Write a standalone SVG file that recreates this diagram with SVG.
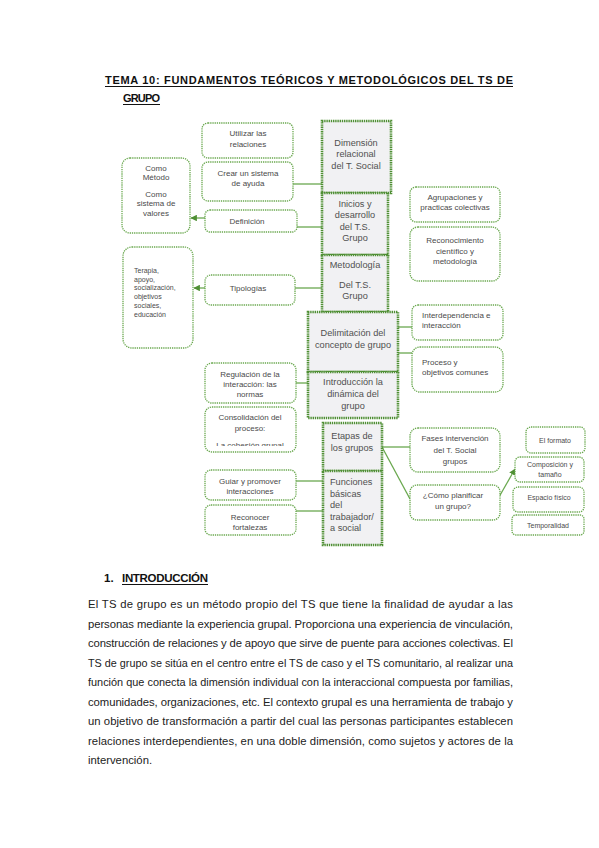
<svg xmlns="http://www.w3.org/2000/svg" width="599" height="848" viewBox="0 0 599 848">
<style>
.n{fill:#fff;stroke:#6aa84f;stroke-width:1.3;stroke-dasharray:1.3 0.9}
.c{fill:#f1f1f3;stroke:#4f8f34;stroke-width:2.6;stroke-dasharray:1.4 0.8}
.t{font-family:"Liberation Sans",Arial,sans-serif;font-size:8px;fill:#4a4a4a;text-anchor:middle}
.l{text-anchor:start}
.tc{font-size:9.2px;fill:#505050}
.s{font-size:7px}
.e{stroke:#6aa84f;stroke-width:1.3;fill:none}
.h{font-family:"Liberation Sans",Arial,sans-serif;font-weight:bold;fill:#111}
.p{font-family:"Liberation Sans",Arial,sans-serif;font-size:11.3px;fill:#222}
</style>
<defs>
<marker id="ar" viewBox="0 0 10 10" refX="9" refY="5" markerWidth="5" markerHeight="5" orient="auto">
<path d="M0,0 L10,5 L0,10 z" fill="#4f8f34"/>
</marker>
<clipPath id="cc"><rect x="205" y="407" width="92" height="39"/></clipPath>
</defs>
<rect width="599" height="848" fill="#fff"/>

<g id="title">
<text class="h" x="105" y="84" font-size="11" textLength="408" lengthAdjust="spacing">TEMA 10: FUNDAMENTOS TEÓRICOS Y METODOLÓGICOS DEL TS DE</text>
<line x1="105" y1="86.5" x2="513" y2="86.5" stroke="#111" stroke-width="1"/>
<text class="h" x="123" y="102" font-size="11" textLength="37" lengthAdjust="spacing">GRUPO</text>
<line x1="123" y1="104.5" x2="160" y2="104.5" stroke="#111" stroke-width="1"/>
</g>

<g id="connectors">
<line class="e" x1="293" y1="184" x2="322" y2="184"/>
<line class="e" x1="297" y1="227" x2="322" y2="227"/>
<line class="e" x1="205" y1="218" x2="191" y2="218" marker-end="url(#ar)"/>
<line class="e" x1="295" y1="288" x2="322" y2="288"/>
<line class="e" x1="205" y1="288" x2="194" y2="288" marker-end="url(#ar)"/>
<line class="e" x1="398" y1="327" x2="412" y2="327"/>
<line class="e" x1="398" y1="353" x2="412" y2="353"/>
<line class="e" x1="296" y1="383" x2="308" y2="383"/>
<line class="e" x1="296" y1="481" x2="323" y2="481"/>
<line class="e" x1="296" y1="511" x2="323" y2="511"/>
<line class="e" x1="382" y1="447" x2="410" y2="447"/>
<line class="e" x1="382" y1="447" x2="410" y2="499"/>
<line class="e" x1="499" y1="497" x2="515" y2="469" marker-end="url(#ar)"/>
</g>

<g id="n-dimension"><rect class="c" x="322" y="121" width="69" height="72"/>
<text class="t tc" x="356" y="146">Dimensión</text><text class="t tc" x="356" y="157">relacional</text><text class="t tc" x="356" y="169">del T. Social</text></g>
<g id="n-inicios"><rect class="c" x="322" y="193" width="66" height="62"/>
<text class="t tc" x="355" y="207">Inicios y</text><text class="t tc" x="355" y="218">desarrollo</text><text class="t tc" x="355" y="230">del T.S.</text><text class="t tc" x="355" y="241">Grupo</text></g>
<g id="n-metodologia"><rect class="c" x="322" y="255" width="66" height="57"/>
<text class="t tc" x="355" y="268">Metodología</text><text class="t tc" x="355" y="288">Del T.S.</text><text class="t tc" x="355" y="299">Grupo</text></g>
<g id="n-delimitacion"><rect class="c" x="308" y="312" width="90" height="60"/>
<text class="t tc" x="353" y="336">Delimitación del</text><text class="t tc" x="353" y="348">concepto de grupo</text></g>
<g id="n-introduccion"><rect class="c" x="308" y="372" width="90" height="46"/>
<text class="t tc" x="353" y="385">Introducción la</text><text class="t tc" x="353" y="397">dinámica del</text><text class="t tc" x="353" y="409">grupo</text></g>
<g id="n-etapas"><rect class="c" x="323" y="423" width="59" height="48"/>
<text class="t tc" x="352" y="439">Etapas de</text><text class="t tc" x="352" y="451">los grupos</text></g>
<g id="n-funciones"><rect class="c" x="323" y="471" width="59" height="74"/>
<text class="t tc l" x="330" y="485">Funciones</text><text class="t tc l" x="330" y="497">básicas</text><text class="t tc l" x="330" y="508">del</text><text class="t tc l" x="330" y="520">trabajador/</text><text class="t tc l" x="330" y="531">a social</text></g>

<g id="n-utilizar"><rect class="n" x="202" y="123" width="91" height="35" rx="6"/>
<text class="t" x="248" y="136">Utilizar las</text><text class="t" x="248" y="147">relaciones</text></g>
<g id="n-crear"><rect class="n" x="202" y="162" width="91" height="39" rx="6"/>
<text class="t" x="248" y="176">Crear un sistema</text><text class="t" x="248" y="186">de ayuda</text></g>
<g id="n-definicion"><rect class="n" x="205" y="210" width="92" height="22" rx="5"/>
<text class="t" x="247" y="224">Definición</text></g>
<g id="n-como"><rect class="n" x="122" y="158" width="68" height="75" rx="8"/>
<text class="t" x="156" y="171">Como</text><text class="t" x="156" y="180">Método</text><text class="t" x="156" y="197">Como</text><text class="t" x="156" y="206">sistema de</text><text class="t" x="156" y="216">valores</text></g>
<g id="n-terapia"><rect class="n" x="123" y="247" width="70" height="101" rx="9"/>
<text class="t s l" x="134" y="273">Terapia,</text><text class="t s l" x="134" y="282">apoyo,</text><text class="t s l" x="134" y="290">socialización,</text><text class="t s l" x="134" y="299">objetivos</text><text class="t s l" x="134" y="308">sociales,</text><text class="t s l" x="134" y="317">educación</text></g>
<g id="n-tipologias"><rect class="n" x="205" y="275" width="90" height="30" rx="6"/>
<text class="t" x="248" y="291">Tipologías</text></g>
<g id="n-agrupaciones"><rect class="n" x="410" y="187" width="90" height="35" rx="6"/>
<text class="t" x="455" y="200">Agrupaciones y</text><text class="t" x="455" y="210">practicas colectivas</text></g>
<g id="n-reconocimiento"><rect class="n" x="410" y="227" width="90" height="54" rx="8"/>
<text class="t" x="455" y="243">Reconocimiento</text><text class="t" x="455" y="254">científico y</text><text class="t" x="455" y="264">metodología</text></g>
<g id="n-interdependencia"><rect class="n" x="412" y="305" width="91" height="35" rx="6"/>
<text class="t l" x="422" y="318">Interdependencia e</text><text class="t l" x="422" y="328">interacción</text></g>
<g id="n-proceso"><rect class="n" x="412" y="347" width="91" height="45" rx="8"/>
<text class="t l" x="422" y="365">Proceso y</text><text class="t l" x="422" y="375">objetivos comunes</text></g>
<g id="n-regulacion"><rect class="n" x="205" y="363" width="91" height="40" rx="7"/>
<text class="t" x="250" y="377">Regulación de la</text><text class="t" x="250" y="387">interacción: las</text><text class="t" x="250" y="397">normas</text></g>
<g id="n-consolidacion"><rect class="n" x="205" y="407" width="91" height="45" rx="7"/>
<text class="t" x="250" y="420">Consolidación del</text><text class="t" x="250" y="431">proceso:</text><text class="t" x="250" y="448" clip-path="url(#cc)">La cohesión grupal</text></g>
<g id="n-guiar"><rect class="n" x="205" y="470" width="91" height="30" rx="6"/>
<text class="t" x="250" y="484">Guiar y promover</text><text class="t" x="250" y="494">interacciones</text></g>
<g id="n-reconocer"><rect class="n" x="205" y="505" width="91" height="30" rx="6"/>
<text class="t" x="250" y="520">Reconocer</text><text class="t" x="250" y="530">fortalezas</text></g>
<g id="n-fases"><rect class="n" x="410" y="428" width="90" height="44" rx="8"/>
<text class="t" x="455" y="441">Fases intervención</text><text class="t" x="455" y="453">del T. Social</text><text class="t" x="455" y="464">grupos</text></g>
<g id="n-planificar"><rect class="n" x="410" y="485" width="90" height="35" rx="7"/>
<text class="t" x="453" y="498">¿Cómo planificar</text><text class="t" x="453" y="509">un grupo?</text></g>
<g id="n-formato"><rect class="n" x="526" y="427" width="59" height="26" rx="5"/>
<text class="t s" x="555" y="443">El formato</text></g>
<g id="n-composicion"><rect class="n" x="515" y="457" width="69" height="25" rx="5"/>
<text class="t s" x="550" y="467">Composición y</text><text class="t s" x="550" y="477">tamaño</text></g>
<g id="n-espacio"><rect class="n" x="513" y="487" width="71" height="25" rx="5"/>
<text class="t s" x="549" y="500">Espacio físico</text></g>
<g id="n-temporalidad"><rect class="n" x="512" y="515" width="72" height="20" rx="4"/>
<text class="t s" x="548" y="528">Temporalidad</text></g>

<g id="section">
<text class="h" x="104" y="582" font-size="11.5">1.</text>
<text class="h" x="122" y="582" font-size="11.5" textLength="86" lengthAdjust="spacing">INTRODUCCIÓN</text>
<line x1="122" y1="584.5" x2="208" y2="584.5" stroke="#111" stroke-width="1"/>
<text class="p" x="88" y="608" textLength="425" lengthAdjust="spacing">El TS de grupo es un método propio del TS que tiene la finalidad de ayudar a las</text>
<text class="p" x="88" y="627.5" textLength="425" lengthAdjust="spacing">personas mediante la experiencia grupal. Proporciona una experiencia de vinculación,</text>
<text class="p" x="88" y="647" textLength="425" lengthAdjust="spacing">construcción de relaciones y de apoyo que sirve de puente para acciones colectivas. El</text>
<text class="p" x="88" y="666.5" textLength="425" lengthAdjust="spacingAndGlyphs">TS de grupo se sitúa en el centro entre el TS de caso y el TS comunitario, al realizar una</text>
<text class="p" x="88" y="686" textLength="425" lengthAdjust="spacingAndGlyphs">función que conecta la dimensión individual con la interaccional compuesta por familias,</text>
<text class="p" x="88" y="705.5" textLength="425" lengthAdjust="spacing">comunidades, organizaciones, etc. El contexto grupal es una herramienta de trabajo y</text>
<text class="p" x="88" y="725" textLength="425" lengthAdjust="spacing">un objetivo de transformación a partir del cual las personas participantes establecen</text>
<text class="p" x="88" y="744.5" textLength="425" lengthAdjust="spacing">relaciones interdependientes, en una doble dimensión, como sujetos y actores de la</text>
<text class="p" x="88" y="764">intervención.</text>
</g>
</svg>
